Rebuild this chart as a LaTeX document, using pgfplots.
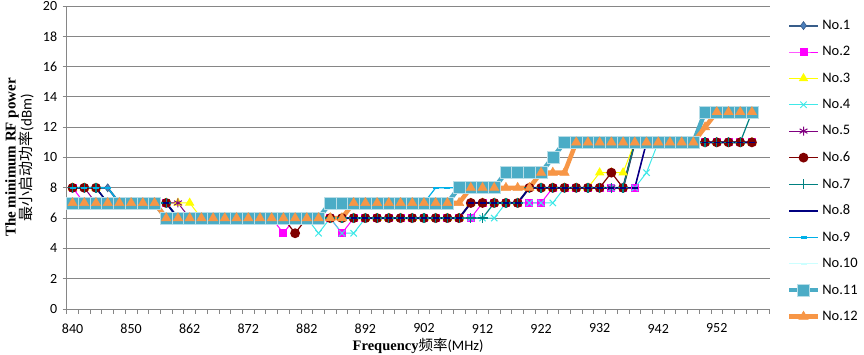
\documentclass[border=0pt]{standalone}
\usepackage{pgfplots}
\pgfplotsset{compat=1.18}
\usepackage{pgfplotstable}
\usepackage{fontspec}
\setmainfont{Carlito}
\newfontfamily\enser{Liberation Serif}
\newfontfamily\cjk{Noto Sans CJK SC}
\definecolor{c1}{HTML}{4A7EBB}
\definecolor{c1d}{HTML}{385D8A}
\definecolor{c2}{HTML}{FF00FF}
\definecolor{c3}{HTML}{FFFF00}
\definecolor{c4}{HTML}{40E8E8}
\definecolor{c5}{HTML}{800080}
\definecolor{c6}{HTML}{800000}
\definecolor{c7}{HTML}{008080}
\definecolor{c8}{HTML}{000080}
\definecolor{c9}{HTML}{00B0E8}
\definecolor{c10}{HTML}{CCFFFF}
\definecolor{c11}{HTML}{4BACC6}
\definecolor{c12}{HTML}{F79646}
\definecolor{gridc}{HTML}{868686}

\pgfplotstableread{
i s1 s2 s3 s4 s5 s6 s7 s8 s9 s10 s11 s12
0 8 8 8 8 8 8 8 8 8 7 7 7
1 8 7 8 8 8 8 8 8 8 7 7 7
2 8 7 8 8 7 8 8 8 8 7 7 7
3 8 7 7 7 7 7 7 7 8 7 7 7
4 7 7 7 7 7 7 7 7 7 7 7 7
5 7 7 7 7 7 7 7 7 7 7 7 7
6 7 7 7 7 7 7 7 7 7 7 7 7
7 7 7 7 7 7 7 7 7 7 7 7 7
8 7 7 7 7 7 7 7 7 6 6 6 6
9 6 6 7 6 7 6 6 6 6 6 6 6
10 6 6 7 6 6 6 6 6 6 6 6 6
11 6 6 6 6 6 6 6 6 6 6 6 6
12 6 6 6 6 6 6 6 6 6 6 6 6
13 6 6 6 6 6 6 6 6 6 6 6 6
14 6 6 6 6 6 6 6 6 6 6 6 6
15 6 6 6 6 6 6 6 6 6 6 6 6
16 6 6 6 6 6 6 6 6 6 6 6 6
17 6 6 6 6 6 6 6 6 6 6 6 6
18 6 5 6 6 6 6 6 6 6 6 6 6
19 6 6 6 6 6 5 6 6 6 6 6 6
20 6 6 6 6 6 6 6 6 6 6 6 6
21 6 6 6 5 6 6 6 6 6 6 6 6
22 6 6 6 6 6 6 6 6 7 7 7 6
23 6 5 6 5 6 6 6 6 7 7 7 6
24 6 6 6 5 6 6 6 6 7 7 7 7
25 6 6 6 6 6 6 6 6 7 7 7 7
26 6 6 6 6 6 6 6 6 7 7 7 7
27 6 6 6 6 6 6 6 6 7 7 7 7
28 6 6 6 6 6 6 6 6 7 7 7 7
29 6 6 6 6 6 6 6 6 7 7 7 7
30 6 6 6 6 6 6 6 6 7 7 7 7
31 6 6 6 6 6 6 6 6 8 7 7 7
32 6 6 6 6 6 6 6 6 8 7 7 7
33 6 6 6 6 6 6 6 6 8 8 8 7
34 7 6 7 6 7 7 6 7 8 8 8 8
35 7 7 7 6 7 7 6 7 8 8 8 8
36 7 7 7 6 7 7 7 7 8 8 8 8
37 7 7 7 7 7 7 7 7 9 9 9 8
38 7 7 7 7 7 7 7 7 9 9 9 8
39 8 7 8 7 8 8 8 8 9 9 9 8
40 8 7 8 7 8 8 8 8 9 9 9 9
41 8 8 8 7 8 8 8 8 10 10 10 9
42 8 8 8 8 8 8 8 8 11 11 11 9
43 8 8 8 8 8 8 8 8 11 11 11 11
44 8 8 8 8 8 8 8 8 11 11 11 11
45 8 8 9 8 8 8 8 8 11 11 11 11
46 8 8 9 8 8 9 8 8 11 11 11 11
47 8 8 9 8 8 8 8 8 11 11 11 11
48 11 8 11 8 11 11 11 8 11 11 11 11
49 11 11 11 9 11 11 11 11 11 11 11 11
50 11 11 11 11 11 11 11 11 11 11 11 11
51 11 11 11 11 11 11 11 11 11 11 11 11
52 11 11 11 11 11 11 11 11 11 11 11 11
53 11 11 11 11 11 11 11 11 11 11 11 11
54 11 11 11 11 11 11 11 11 13 13 13 12
55 11 11 11 11 11 11 11 11 13 13 13 13
56 11 11 11 11 11 11 11 11 13 13 13 13
57 11 11 11 11 11 11 11 11 13 13 13 13
58 11 11 11 11 11 11 13 11 13 13 13 13
}\data

\begin{document}
\begin{tikzpicture}
\path[use as bounding box] (0,0) rectangle (864pt,355pt);
\begin{axis}[
  at={(66.7pt,46pt)}, anchor=south west,
  width=702.8pt, height=303pt, scale only axis,
  xmin=-0.5, xmax=59.5, ymin=0, ymax=20,
  axis x line*=bottom, axis y line*=left,
  axis line style={gridc, line width=0.8pt, -},
  ytick={0,2,...,20},
  ymajorgrids, grid style={gridc, line width=0.8pt},
  xtick={0,5,...,55},
  xticklabels={840,850,862,872,882,892,902,912,922,932,942,952},
  minor xtick={-0.5,0.5,...,59.5},
  major x tick style={draw=none},
  minor x tick style={gridc, line width=0.8pt},
  ytick style={gridc, line width=0.8pt},
  tick align=outside,
  major tick length=4pt, minor tick length=5pt,
  /pgf/number format/assume math mode=true,
  ticklabel style={font=\fontsize{14}{16}\selectfont, text=black},
  xticklabel style={anchor=center, yshift=-15.5pt, inner sep=0pt},
  yticklabel style={anchor=east, xshift=-2pt},
  xlabel={{\enser\bfseries Frequency}{\cjk 频率}(MHz)},
  every axis x label/.style={at={(axis description cs:0.5,0)}, anchor=center, yshift=-37pt, inner sep=0pt, font=\fontsize{14.5}{17}\selectfont},
  legend style={draw=none, fill=none, font=\fontsize{14.5}{16}\selectfont, row sep=11.5pt,
    at={(rel axis cs:1.02,0.455)}, anchor=west},
  legend cell align=left,
  legend image code/.code={\draw[mark repeat=2,mark phase=2,#1] plot coordinates {(0pt,0pt) (14.5pt,0pt) (29pt,0pt)};},
]
\addplot[c1d, line width=2pt, mark=diamond*, mark size=4pt, mark options={fill=c1, draw=c1d, line width=0.6pt}] table[x=i,y=s1]{\data};
\addplot[c2, line width=1pt, mark=square*, mark size=3.5pt, mark options={fill=c2}] table[x=i,y=s2]{\data};
\addplot[c3, line width=1pt, mark=triangle*, mark size=4.5pt, mark options={fill=c3}] table[x=i,y=s3]{\data};
\addplot[c4, line width=1pt, mark=x, mark size=4.5pt] table[x=i,y=s4]{\data};
\addplot[c5, line width=1pt, mark=asterisk, mark size=4.5pt] table[x=i,y=s5]{\data};
\addplot[c6, line width=1.2pt, mark=*, mark size=4.3pt, mark options={fill=c6}] table[x=i,y=s6]{\data};
\addplot[c7, line width=1.2pt, mark=+, mark size=5pt] table[x=i,y=s7]{\data};
\addplot[c8, line width=1.5pt, mark=-, mark size=3pt] table[x=i,y=s8]{\data};
\addplot[c9, line width=1.2pt, mark=-, mark size=3pt, mark options={line width=2.5pt}] table[x=i,y=s9]{\data};
\addplot[c10, line width=1.2pt, mark=-, mark size=3pt, mark options={line width=2.5pt}] table[x=i,y=s10]{\data};
\addplot[c11, line width=4.5pt, mark=square*, mark size=6pt, mark options={fill=c11, draw=white!60!c11, line width=0.6pt}] table[x=i,y=s11]{\data};
\addplot[c12, line width=4.5pt, mark=triangle*, mark size=5.5pt, mark options={fill=c12, draw=c12, line width=0.4pt}] table[x=i,y=s12]{\data};
\legend{No.1,No.2,No.3,No.4,No.5,No.6,No.7,No.8,No.9,No.10,No.11,No.12}
\end{axis}
\node[rotate=90, align=center, font=\fontsize{15}{16}\selectfont] at (19.5pt,197.5pt) {{\enser\bfseries The minimum RF power}\\{\cjk 最小启动功率}(dBm)};
\end{tikzpicture}
\end{document}
